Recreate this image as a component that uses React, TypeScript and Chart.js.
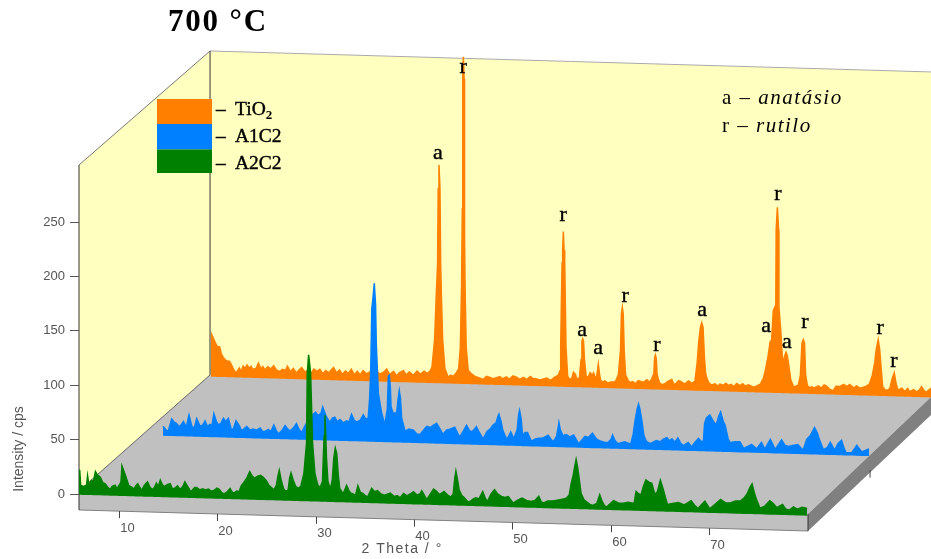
import { useEffect, useRef } from "react";
import { Chart, registerables } from "chart.js";

Chart.register(...registerables);

const greenTheta = [
  5.93, 6.0, 6.1, 6.4, 6.7, 6.8, 6.95, 7.2, 7.4, 7.6,
  7.8, 8.1, 8.35, 8.6, 8.85, 9.1, 9.3, 9.6, 9.8, 10.0,
  10.2, 10.3, 10.5, 10.7, 11.0, 11.25, 11.5, 11.7, 11.9, 12.1,
  12.3, 12.6, 12.9, 13.15, 13.4, 13.6, 13.8, 14.0, 14.2, 14.4,
  14.6, 14.9, 15.2, 15.45, 15.7, 15.95, 16.2, 16.45, 16.7, 16.9,
  17.1, 17.3, 17.5, 17.7, 17.9, 18.2, 18.5, 18.8, 19.1, 19.4,
  19.7, 19.95, 20.2, 20.45, 20.7, 21.0, 21.3, 21.5, 21.7, 22.0,
  22.2, 22.45, 22.7, 23.0, 23.3, 23.55, 23.8, 24.1, 24.4, 24.7,
  25.0, 25.25, 25.5, 25.75, 26.0, 26.15, 26.3, 26.5, 26.75, 26.95,
  27.2, 27.35, 27.5, 27.7, 27.95, 28.2, 28.5, 28.81, 29.08, 29.15,
  29.29, 29.49, 29.69, 29.93, 30.2, 30.45, 30.7, 30.8, 30.87, 30.95,
  31.03, 31.1, 31.25, 31.5, 31.7, 31.85, 32.0, 32.15, 32.3, 32.45,
  32.8, 33.15, 33.4, 33.6, 33.85, 34.05, 34.3, 34.55, 34.8, 35.05,
  35.3, 35.7, 36.0, 36.3, 36.65, 37.0, 37.3, 37.6, 38.0, 38.3,
  38.6, 38.95, 39.3, 39.65, 39.96, 40.3, 40.6, 40.8, 41.05, 41.3,
  41.65, 42.0, 42.3, 42.6, 43.06, 43.4, 43.75, 44.0, 44.15, 44.27,
  44.42, 44.6, 44.85, 45.1, 45.5, 45.8, 46.05, 46.3, 46.6, 47.0,
  47.25, 47.5, 47.85, 48.2, 48.55, 48.9, 49.25, 49.6, 49.85, 50.1,
  50.55, 51.0, 51.45, 51.9, 52.3, 52.7, 52.95, 53.2, 53.6, 54.1,
  54.6, 55.1, 55.5, 55.8, 56.0, 56.2, 56.35, 56.5, 56.65, 56.8,
  57.0, 57.3, 57.6, 57.9, 58.2, 58.6, 58.9, 59.15, 59.4, 59.6,
  59.95, 60.3, 60.8, 61.3, 61.8, 62.4, 62.6, 62.85, 63.1, 63.35,
  63.6, 63.9, 64.2, 64.5, 64.75, 65.07, 65.35, 65.6, 65.8, 66.3,
  66.9, 67.5, 68.2, 68.55, 68.9, 69.3, 69.6, 70.1, 70.6, 71.2,
  71.7, 72.2, 72.7, 73.2, 73.6, 73.9, 74.2, 74.4, 74.6, 74.8,
  75.2, 75.7, 76.2, 76.5, 76.9, 77.5, 77.8, 78.2, 78.6, 79.0,
  79.5, 80.0,
];
const greenValues = [
  22, 22, 8, 7, 8, 17, 8, 13, 12, 21,
  18, 16, 11, 10, 7, 5, 8, 9, 6, 9,
  12, 27, 22, 17, 9, 8, 6, 9, 11, 8,
  5, 10, 13, 8, 6, 8, 12, 9, 15, 11,
  9, 11, 12, 7, 8, 10, 7, 9, 14, 11,
  8, 5, 7, 9, 9, 7, 8, 7, 8, 6,
  7, 9, 8, 5, 4, 6, 9, 6, 5, 7,
  6, 12, 15, 19, 25, 21, 19, 21, 22, 20,
  17, 13, 11, 9, 13, 21, 27, 18, 10, 8,
  9, 20, 25, 19, 13, 11, 13, 25, 53, 117,
  134, 117, 53, 25, 15, 12, 18, 44, 60, 79,
  60, 40, 18, 11, 20, 40, 49, 44, 25, 12,
  7, 15, 10, 8, 7, 6, 15, 9, 8, 6,
  5, 13, 10, 11, 8, 7, 8, 9, 6, 7,
  5, 9, 7, 9, 11, 8, 9, 12, 8, 4,
  9, 14, 12, 9, 12, 9, 7, 10, 24, 31,
  24, 14, 9, 7, 3, 4, 6, 7, 6, 13,
  7, 4, 11, 15, 11, 9, 8, 9, 6, 3,
  6, 8, 6, 5, 6, 10, 5, 4, 6, 6,
  7, 8, 9, 12, 23, 30, 38, 45, 38, 28,
  14, 8, 6, 4, 3, 5, 13, 7, 3, 2,
  5, 8, 6, 6, 7, 6, 17, 15, 14, 22,
  28, 26, 25, 15, 17, 28, 20, 12, 6, 7,
  8, 6, 10, 6, 3, 7, 10, 3, 7, 12,
  9, 9, 11, 11, 14, 18, 24, 27, 20, 14,
  5, 7, 12, 10, 6, 9, 5, 4, 7, 5,
  7, 6,
];

const blueTheta = [
  5.93, 6.3, 6.47, 6.81, 7.05, 7.3, 7.55, 7.8, 8.0, 8.3,
  8.57, 8.85, 9.1, 9.35, 9.7, 9.95, 10.2, 10.45, 10.7, 10.9,
  11.1, 11.35, 11.55, 11.8, 12.07, 12.3, 12.57, 12.75, 12.9, 13.1,
  13.35, 13.65, 13.93, 14.2, 14.44, 14.8, 15.1, 15.45, 15.8, 16.05,
  16.3, 16.65, 16.9, 17.2, 17.45, 17.66, 18.0, 18.35, 18.6, 18.85,
  19.2, 19.5, 19.75, 20.03, 20.3, 20.54, 20.9, 21.2, 21.45, 21.7,
  22.0, 22.17, 22.5, 22.9, 23.15, 23.4, 23.65, 23.93, 24.25, 24.6,
  24.85, 25.1, 25.35, 25.6, 26.0, 26.3, 26.55, 26.8, 26.95, 27.05,
  27.17, 27.27, 27.42, 27.55, 27.62, 27.83, 28.17, 28.5, 28.65, 28.74,
  28.85, 28.95, 29.05, 29.12, 29.35, 29.7, 29.85, 29.96, 30.08, 30.2,
  30.55, 30.95, 31.4, 31.7, 32.06, 32.4, 32.75, 33.1, 33.4, 33.76,
  34.1, 34.4, 34.75, 35.1, 35.6, 36.1, 36.5, 36.8, 37.05, 37.3,
  37.55, 37.8, 38.15, 38.5, 38.9, 39.2, 39.5, 39.8, 40.0, 40.1,
  40.3, 40.5, 40.9, 41.3, 41.6, 41.95, 42.1, 42.2, 42.35, 42.5,
  42.75, 43.0, 43.4, 43.75, 44.1, 44.5, 45.1, 45.6, 45.95, 46.1,
  46.2, 46.35, 46.6, 46.95, 47.3, 47.7, 48.2, 48.5, 48.85, 49.2,
  49.6, 50.0, 50.4, 50.8, 51.2, 51.5, 51.66, 51.9, 52.2, 52.55,
  52.9, 53.5, 53.75, 53.95, 54.15, 54.3, 54.45, 54.65, 54.85, 55.1,
  55.5, 56.1, 56.5, 56.9, 57.2, 57.45, 57.7, 58.0, 58.3, 58.6,
  58.85, 59.35, 59.7, 60.0, 60.4, 60.7, 60.9, 61.02, 61.2, 61.55,
  61.85, 62.2, 62.45, 62.65, 62.9, 63.1, 63.4, 63.6, 64.1, 64.6,
  65.0, 65.4, 65.8, 66.3, 66.8, 67.15, 67.7, 68.2, 68.85, 69.2,
  69.5, 70.0, 70.5, 71.05, 71.4, 71.8, 72.2, 72.45, 72.75, 73.1,
  73.5, 73.8, 74.25, 74.6, 74.95, 75.2, 75.4, 76.0, 76.5, 77.0,
  77.75,
];
const blueValues = [
  8, 4, 4, 15, 12, 11, 8, 10, 13, 8,
  19, 9, 7, 16, 9, 10, 14, 9, 11, 10,
  21, 14, 11, 12, 17, 14, 17, 11, 6, 8,
  15, 11, 6, 8, 10, 7, 8, 7, 9, 6,
  6, 8, 6, 12, 7, 4, 7, 12, 9, 7,
  10, 14, 9, 6, 11, 15, 19, 23, 25, 22,
  24, 30, 22, 16, 20, 21, 17, 19, 16, 18,
  17, 24, 19, 17, 19, 24, 20, 21, 40, 63,
  122, 130, 145, 125, 90, 44, 26, 15, 25, 29,
  60, 61, 50, 32, 26, 27, 40, 47, 40, 22,
  10, 12, 11, 8, 7, 11, 15, 14, 16, 18,
  13, 8, 12, 13, 15, 6, 12, 17, 13, 11,
  13, 16, 10, 5, 12, 14, 18, 20, 26, 28,
  22, 13, 5, 12, 6, 14, 28, 32, 25, 9,
  12, 12, 4, 6, 7, 7, 10, 4, 9, 16,
  22, 15, 10, 11, 9, 11, 3, 6, 10, 9,
  13, 8, 6, 5, 5, 8, 12, 7, 4, 5,
  6, 4, 13, 26, 36, 41, 36, 25, 12, 7,
  5, 8, 7, 10, 11, 8, 10, 7, 11, 6,
  4, 7, 3, 7, 11, 8, 9, 25, 30, 33,
  28, 24, 32, 36, 28, 24, 12, 8, 9, 9,
  3, 5, 7, 3, 9, 3, 12, 3, 12, 7,
  6, 7, 8, 3, 13, 17, 24, 20, 12, 4,
  6, 11, 4, 10, 13, 6, 2, 2, 9, 3,
  6,
];

const orangeTheta = [
  5.93, 6.0, 6.2, 6.4, 6.6, 6.8, 7.0, 7.2, 7.4, 7.6,
  7.8, 8.0, 8.2, 8.4, 8.6, 8.8, 9.0, 9.2, 9.4, 9.6,
  9.8, 10.0, 10.2, 10.5, 10.75, 11.0, 11.2, 11.4, 11.7, 12.0,
  12.3, 12.6, 12.95, 13.2, 13.5, 13.7, 14.0, 14.3, 14.6, 14.9,
  15.15, 15.5, 15.8, 16.1, 16.4, 16.7, 17.0, 17.3, 17.6, 17.9,
  18.2, 18.4, 18.7, 19.0, 19.3, 19.6, 19.9, 20.2, 20.5, 20.8,
  21.1, 21.4, 21.75, 22.1, 22.4, 22.8, 23.1, 23.5, 23.8, 24.1,
  24.5, 24.8, 25.1, 25.5, 25.8, 26.1, 26.5, 26.9, 27.2, 27.6,
  27.9, 28.2, 28.41, 28.68, 28.85, 28.98, 29.04, 29.12, 29.22, 29.29,
  29.36, 29.49, 29.72, 30.05, 30.3, 30.57, 30.85, 31.12, 31.29, 31.42,
  31.49, 31.54, 31.6, 31.67, 31.72, 31.77, 31.89, 32.09, 32.4, 32.7,
  32.95, 33.3, 33.6, 33.95, 34.3, 34.6, 34.97, 35.3, 35.6, 35.95,
  36.3, 36.65, 37.0, 37.35, 37.7, 38.05, 38.4, 38.7, 39.0, 39.4,
  39.75, 40.08, 40.5, 40.9, 41.26, 41.43, 41.5, 41.64, 41.7, 41.77,
  41.84, 41.91, 42.04, 42.21, 42.45, 42.65, 42.8, 43.0, 43.13, 43.4,
  43.57, 43.66, 43.74, 43.82, 43.92, 44.1, 44.3, 44.5, 44.7, 44.85,
  45.05, 45.2, 45.33, 45.45, 45.57, 45.8, 46.0, 46.3, 46.6, 46.86,
  47.1, 47.37, 47.58, 47.68, 47.77, 47.86, 47.96, 48.1, 48.35, 48.55,
  48.85, 49.1, 49.4, 49.7, 50.0, 50.25, 50.55, 50.76, 50.98, 51.05,
  51.13, 51.22, 51.3, 51.45, 51.6, 51.85, 52.1, 52.4, 52.8, 53.05,
  53.3, 53.5, 53.8, 54.1, 54.5, 54.85, 55.16, 55.38, 55.55, 55.72,
  55.85, 55.98, 56.12, 56.25, 56.45, 56.65, 56.86, 57.2, 57.5, 57.7,
  58.05, 58.3, 58.55, 58.85, 59.1, 59.4, 59.75, 60.0, 60.25, 60.6,
  61.1, 61.4, 61.8, 62.1, 62.28, 62.6, 62.8, 62.96, 63.13, 63.38,
  63.42, 63.54, 63.67, 63.7, 63.9, 64.08, 64.3, 64.42, 64.55, 64.7,
  64.9, 65.2, 65.4, 65.67, 65.88, 66.05, 66.18, 66.3, 66.42, 66.6,
  66.8, 67.03, 67.3, 67.7, 68.0, 68.3, 68.55, 68.9, 69.23, 69.5,
  69.9, 70.3, 70.6, 70.9, 71.3, 71.6, 71.94, 72.3, 72.6, 72.9,
  73.2, 73.45, 73.6, 73.8, 73.95, 74.1, 74.25, 74.5, 74.82, 75.0,
  75.2, 75.43, 75.6, 75.8, 76.2, 76.5, 76.8, 77.0, 77.4, 77.7,
  78.0, 78.2, 78.5, 78.7, 79.2, 80.0,
];
const orangeValues = [
  22, 38, 34, 30, 27, 27, 20, 17, 15, 14,
  14, 11, 7, 4, 5, 8, 5, 10, 8, 11,
  8, 10, 7, 8, 13, 8, 10, 7, 10, 8,
  11, 7, 6, 8, 7, 11, 6, 9, 5, 8,
  10, 6, 8, 5, 9, 7, 9, 5, 8, 6,
  9, 11, 6, 9, 5, 8, 6, 10, 5, 8,
  5, 9, 6, 8, 6, 9, 6, 8, 11, 6,
  9, 5, 8, 10, 6, 9, 6, 10, 7, 10,
  8, 10, 14, 40, 82, 110, 178, 200, 178, 110,
  82, 40, 13, 5, 7, 6, 9, 13, 33, 90,
  160, 280, 300, 280, 135, 90, 33, 12, 9, 7,
  6, 5, 4, 7, 6, 5, 6, 7, 5, 7,
  5, 8, 7, 5, 7, 5, 8, 6, 6, 5,
  6, 7, 5, 8, 10, 14, 36, 113, 125, 142,
  125, 113, 36, 9, 6, 8, 13, 11, 7, 8,
  25, 42, 44, 42, 25, 9, 9, 13, 11, 13,
  7, 12, 21, 12, 6, 5, 6, 4, 5, 5,
  6, 12, 34, 68, 74, 68, 34, 12, 7, 5,
  6, 4, 7, 6, 6, 8, 6, 9, 14, 28,
  31, 28, 14, 8, 5, 4, 5, 7, 9, 4,
  6, 8, 7, 5, 8, 6, 8, 25, 45, 58,
  62, 58, 30, 15, 9, 6, 5, 6, 4, 6,
  5, 7, 5, 6, 4, 7, 5, 7, 5, 6,
  4, 5, 7, 12, 18, 33, 46, 48, 75, 80,
  149, 170, 149, 78, 55, 27, 34, 37, 34, 25,
  12, 5, 6, 7, 16, 46, 49, 46, 16, 7,
  5, 6, 5, 7, 5, 8, 7, 4, 3, 7,
  7, 9, 7, 9, 6, 8, 6, 7, 8, 10,
  18, 30, 42, 51, 42, 25, 8, 5, 5, 7,
  15, 21, 12, 5, 7, 4, 7, 4, 6, 4,
  6, 9, 5, 4, 8, 5,
];

const peakLabels = ["r", "a", "r", "a", "a", "r", "r", "a", "a", "r", "a", "r", "r", "r"];
const peakTheta = [31.57, 29.02, 41.74, 43.67, 45.3, 48.05, 51.3, 55.88, 62.4, 63.6, 64.5, 66.35, 74.0, 75.4];
const peakHeight = [290.7, 211, 157, 52, 36, 84.6, 40.4, 73, 60.8, 182, 45.8, 65.4, 62, 32];

const xTickValues = [10, 20, 30, 40, 50, 60, 70];
const yTickMax = 250;

const TITLE = "700 °C";
const SERIES_NAMES = ["TiO", "A1C2", "A2C2"];

// Projection of the pseudo-3D depth: a shift along 2 Theta and along cps, plus the floor tilt.
const TILT = 0.26;
const START = 5.93;
const depthOrange = { dTheta: 13.43, dCps: 108.5 };
const depthBlue = { dTheta: 8.55, dCps: 54.2 };
const depthGreen = { dTheta: 0, dCps: 0 };

const project = (theta: number, v: number, d: { dTheta: number; dCps: number }) => ({
  x: theta + d.dTheta,
  y: v + d.dCps - (theta - START) * TILT,
});
const line = (t: number[], v: number[], d: { dTheta: number; dCps: number }) =>
  t.map((th, i) => project(th, v[i], d));
const base = (t: number[], d: { dTheta: number; dCps: number }) => t.map((th) => project(th, 0, d));

const ORANGE = "#ff8000";
const BLUE = "#0080ff";
const GREEN = "#008000";
const WALL = "#ffffc0";
const FLOOR = "#c0c0c0";
const SIDE = "#808080";
const AXIS = "#555555";
const SANS = "'Liberation Sans'";
const SERIF = "'Liberation Serif'";

const scenery = {
  id: "scenery",
  beforeDraw(chart: any) {
    const { ctx, scales } = chart;
    const P = (t: number, c: number): [number, number] => [scales.x.getPixelForValue(t), scales.y.getPixelForValue(c)];
    const poly = (pts: [number, number][], fill: string | null, stroke?: string, close = true) => {
      ctx.beginPath();
      pts.forEach((p, i) => (i ? ctx.lineTo(p[0], p[1]) : ctx.moveTo(p[0], p[1])));
      if (close) ctx.closePath();
      if (fill) {
        ctx.fillStyle = fill;
        ctx.fill();
      }
      if (stroke) {
        ctx.strokeStyle = stroke;
        ctx.lineWidth = 1;
        ctx.stroke();
      }
    };
    ctx.save();
    const a = P(5.93, 302.4);
    const b = P(19.26, 407.2);
    const c = P(92.6, 387.9);
    const d = P(92.6, 89.2);
    const e = P(19.26, 109.4);
    const f = P(5.93, 2.8);
    const g = P(80.09, -18.4);
    const h = P(80.09, -34);
    const i = P(5.93, -14.7);
    const j = P(92.6, 72.6);
    poly([a, b, e, f], WALL);
    poly([b, c, d, e], WALL);
    poly([e, d, g, h, i, f], FLOOR);
    poly([g, d, j, h], SIDE);
    poly([a, b], null, "#777777", false);
    poly([b, c], null, "#aaaaaa", false);
    poly([b, e], null, "#333333", false);
    poly([e, f], null, "#666666", false);
    poly([i, h], null, "#808080", false);
    poly([g, h], null, "#333333", false);
    poly([a, i], null, "#333333", false);
    ctx.restore();
  },
  afterDatasetsDraw(chart: any) {
    const { ctx, scales } = chart;
    const X = (t: number) => scales.x.getPixelForValue(t);
    const Y = (c: number) => scales.y.getPixelForValue(c);
    const heavyText = (s: string, x: number, y: number) => {
      ctx.fillText(s, x, y);
      ctx.strokeStyle = "#000000";
      ctx.lineWidth = 0.4;
      ctx.strokeText(s, x, y);
    };
    ctx.save();
    ctx.textBaseline = "middle";

    // title
    ctx.textAlign = "left";
    ctx.fillStyle = "#000000";
    ctx.font = `bold 31px ${SERIF}`;
    ctx.letterSpacing = "1.8px";
    ctx.fillText(TITLE, 168, 23);
    ctx.letterSpacing = "0px";

    // legend
    const swatches = [ORANGE, BLUE, GREEN];
    const tops = [99, 124, 149.5, 173];
    swatches.forEach((col, i) => {
      ctx.fillStyle = col;
      ctx.fillRect(157, tops[i], 55, tops[i + 1] - tops[i]);
    });
    ctx.fillStyle = "#000000";
    [110, 137, 164].forEach((y, i) => {
      ctx.font = `19.5px ${SERIF}`;
      heavyText("–", 216, y);
      heavyText(SERIES_NAMES[i], 235, y);
      if (i === 0) {
        const w = ctx.measureText(SERIES_NAMES[0]).width;
        ctx.font = `bold 13px ${SERIF}`;
        ctx.fillText("2", 235 + w, y + 6);
      }
    });

    // phase key
    const keys: [string, string, number][] = [["a – ", "anatásio", 98], ["r – ", "rutilo", 126]];
    ctx.letterSpacing = "1.5px";
    keys.forEach(([lead, word, y]) => {
      ctx.font = `21px ${SERIF}`;
      ctx.fillText(lead, 722, y);
      const w = ctx.measureText(lead).width;
      ctx.font = `italic 21px ${SERIF}`;
      ctx.fillText(word, 722 + w, y);
    });
    ctx.letterSpacing = "0px";

    // peak labels
    ctx.textAlign = "center";
    ctx.font = `22px ${SERIF}`;
    peakLabels.forEach((s, i) => {
      const p = project(peakTheta[i], peakHeight[i], depthOrange);
      heavyText(s, X(p.x), Y(p.y));
    });

    // slanted 2 Theta ticks along the front edge of the floor
    ctx.strokeStyle = "#444444";
    ctx.lineWidth = 1;
    ctx.fillStyle = AXIS;
    ctx.font = `13px ${SANS}`;
    xTickValues.forEach((t) => {
      const edge = Y(-14.7 - (t - START) * TILT);
      const x = Math.round(X(t)) + 0.5;
      ctx.beginPath();
      ctx.moveTo(x, edge);
      ctx.lineTo(x, edge + 7);
      ctx.stroke();
      ctx.fillText(String(t), x + 8, edge + 17);
    });
    const sideTick = project(70, -14.7, { dTheta: 16.4, dCps: 0 });
    ctx.beginPath();
    ctx.moveTo(X(sideTick.x), Y(22));
    ctx.lineTo(X(sideTick.x), Y(15));
    ctx.stroke();

    // axis titles
    ctx.font = `14px ${SANS}`;
    ctx.letterSpacing = "1.5px";
    ctx.fillText("2 Theta / °", X(38.8), 549);
    ctx.letterSpacing = "0px";
    ctx.save();
    ctx.translate(19, 449);
    ctx.rotate(-Math.PI / 2);
    ctx.font = `14px ${SANS}`;
    ctx.fillText("Intensity / cps", 0, 0);
    ctx.restore();
    ctx.restore();
  },
};

const areaStyle = (color: string) => ({
  borderWidth: 1.5,
  borderColor: color,
  backgroundColor: color,
  pointRadius: 0,
  tension: 0,
  clip: false as const,
});

export default function App() {
  const ref = useRef<HTMLCanvasElement>(null);
  useEffect(() => {
    const chart = new Chart(ref.current!, {
      type: "line",
      plugins: [scenery],
      data: {
        datasets: [
          { label: "A2C2", data: line(greenTheta, greenValues, depthGreen), fill: "+1", ...areaStyle(GREEN) },
          { label: "A2C2 base", data: base(greenTheta, depthGreen), fill: false, ...areaStyle(GREEN) },
          { label: "A1C2", data: line(blueTheta, blueValues, depthBlue), fill: "+1", ...areaStyle(BLUE) },
          { label: "A1C2 base", data: base(blueTheta, depthBlue), fill: false, ...areaStyle(BLUE) },
          { label: "TiO2", data: line(orangeTheta, orangeValues, depthOrange), fill: "+1", ...areaStyle(ORANGE) },
          { label: "TiO2 base", data: base(orangeTheta, depthOrange), fill: false, ...areaStyle(ORANGE) },
        ],
      },
      options: {
        animation: false,
        responsive: false,
        devicePixelRatio: 1,
        parsing: false,
        normalized: true,
        layout: { padding: { top: 40, bottom: 24, left: 0, right: 0 } },
        plugins: { legend: { display: false }, tooltip: { enabled: false }, title: { display: false } },
        scales: {
          x: { type: "linear", display: false, min: 5.93, max: 92.6 },
          y: {
            type: "linear",
            min: -37.68,
            max: 417.28,
            afterFit: (s: any) => {
              s.width = 79;
            },
            border: { display: false },
            grid: { drawOnChartArea: false, drawTicks: true, tickLength: 9, color: AXIS },
            ticks: {
              stepSize: 50,
              padding: 5,
              color: AXIS,
              font: { family: "Liberation Sans", size: 13 },
              callback: (v: any) => (v >= 0 && v <= yTickMax && v % 50 === 0 ? String(v) : null),
            },
          },
        },
      },
    });
    return () => chart.destroy();
  }, []);
  return (
    <div style={{ position: "absolute", left: 0, top: 0, width: 931, height: 559, background: "#fff" }}>
      <canvas ref={ref} width={931} height={559} style={{ display: "block", filter: "blur(0.4px)" }} />
    </div>
  );
}
